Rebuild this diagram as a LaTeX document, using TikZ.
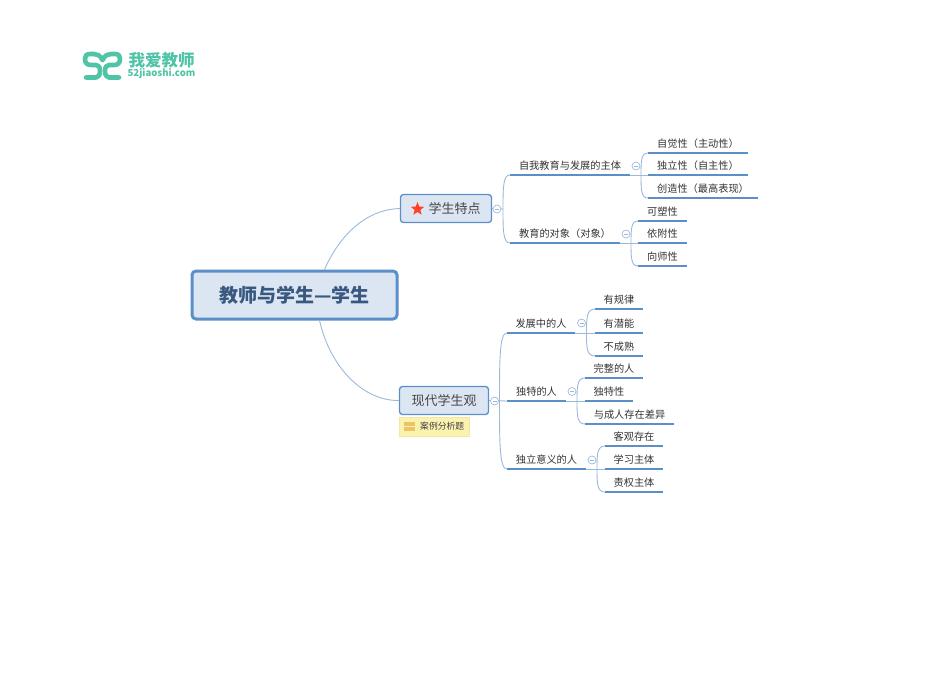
\documentclass[tikz,border=0pt]{standalone}
\usepackage{fontspec}
\setmainfont{Noto Sans CJK SC}
\usetikzlibrary{calc,shapes.geometric}
\definecolor{mapblue}{HTML}{5B8FC9}
\definecolor{mapfill}{HTML}{DCE6F2}
\definecolor{mapthin}{HTML}{9DB9D8}
\definecolor{maptext}{HTML}{38587F}
\definecolor{logogreen}{HTML}{4FC4A6}
\definecolor{notefill}{HTML}{FCF2B0}
\definecolor{notedraw}{HTML}{F3E8A0}
\definecolor{noteicon}{HTML}{EBC565}
\tikzset{
	rootbox/.style={draw=mapblue, line width=3pt, fill=mapfill, rounded corners=4pt, minimum width=205pt, minimum height=48pt, text=maptext, font=\fontsize{19}{21}\selectfont\bfseries},
	mainbox/.style={draw=mapblue, line width=1.3pt, fill=mapfill, rounded corners=3pt, minimum height=28pt, text=black!72, font=\fontsize{13}{15}\selectfont},
	topic/.style={inner sep=0pt, minimum height=18pt, anchor=south, text=black!80, font=\fontsize{10.2}{12}\selectfont},
	under/.style={draw=mapblue, line width=1.8pt},
	thinline/.style={draw=mapthin, line width=0.9pt},
	logoline/.style={logogreen, line width=4.6pt, line cap=round, line join=round},
	notebar/.style={fill=noteicon, inner sep=0pt, minimum width=11pt, minimum height=4pt},
	fold/.style={circle, draw=mapthin, fill=white, line width=0.7pt, minimum size=8pt, inner sep=0pt, path picture={\draw[mapthin, line width=0.6pt] ([xshift=-2pt]path picture bounding box.center) -- ([xshift=2pt]path picture bounding box.center);}}
}
\def\twig(#1)(#2){\draw[thinline] (#1) .. controls ($(#1)!0.6!(#1|-#2)$) and (#1|-#2) .. (#2);}
\begin{document}
\begin{tikzpicture}[x=1pt, y=-1pt]
	\useasboundingbox (0, 0) rectangle (950, 672);

	%%%%% logo %%%%%
	\draw[logoline] (102.5, 60) .. controls (100, 55) and (97, 54) .. (94, 54) -- (90, 54) .. controls (86, 54) and (85, 56) .. (85, 59) .. controls (85, 63) and (87, 65) .. (91, 65) -- (96, 65) .. controls (98.5, 65) and (100, 67) .. (100, 71) .. controls (100, 75) and (98.5, 77.5) .. (96, 77.5) -- (86, 77.5);
	\draw[logoline] (102.5, 60) .. controls (105, 55) and (108, 54) .. (111, 54) -- (115, 54) .. controls (119, 54) and (120, 56) .. (120, 59) .. controls (120, 63) and (118, 65) .. (114, 65) -- (109, 65) .. controls (106.5, 65) and (105, 67) .. (105, 71) .. controls (105, 75) and (106.5, 77.5) .. (109, 77.5) -- (119, 77.5);
	\node[logogreen, inner sep=0pt, font=\fontsize{16.5}{18}\selectfont\bfseries] (logoname) at (161.5, 60) {我爱教师};
	\node[logogreen, inner sep=0pt, font=\fontsize{9.6}{12}\selectfont\bfseries] (logosite) at (161.5, 73.5) {52jiaoshi.com};

	%%%%% root and main topics %%%%%
	\node[rootbox] (root) at (294.5, 295) {教师与学生—学生};
	\node[mainbox, minimum width=91pt] (trait) at (446, 208.5) {\hspace*{17pt}\raisebox{-1pt}{学生特点}};
	\node[star, star points=5, star point ratio=2.3, fill=red!75!orange!85!white, inner sep=0pt, minimum size=14pt] (traitstar) at (417.5, 209) {};
	\node[mainbox, minimum width=89pt] (view) at (444, 400.5) {\raisebox{-1pt}{现代学生观}};

	\node[draw=notedraw, fill=notefill, inner sep=0pt, minimum width=70pt, minimum height=19pt] (note) at (434, 426.5) {};
	\node[anchor=west, inner sep=0pt, text=black!75, font=\fontsize{8.8}{10}\selectfont] (notetext) at (420, 426.5) {案例分析题};
	\node[notebar] (noteicona) at (409.5, 423.5) {};
	\node[notebar] (noteiconb) at (409.5, 429) {};

	\draw[thinline] ($(root.north)+(30, 0)$) .. controls (343, 228) and (372, 209) .. (trait.west);
	\draw[thinline] ($(root.south)+(25, 0)$) .. controls (331, 370) and (365, 401) .. (view.west);

	%%%%% first branch %%%%%
	\node[topic, minimum width=120pt] (self) at (570, 175) {自我教育与发展的主体};
	\node[topic, minimum width=110pt] (object) at (565, 243) {教育的对象（对象）};
	\node[topic, minimum width=100pt] (selfa) at (698, 153) {自觉性（主动性）};
	\node[topic, minimum width=100pt] (selfb) at (698, 175) {独立性（自主性）};
	\node[topic, minimum width=110pt] (selfc) at (703, 198) {创造性（最高表现）};
	\node[topic, minimum width=49pt] (objecta) at (662.5, 221) {可塑性};
	\node[topic, minimum width=49pt] (objectb) at (662.5, 243) {依附性};
	\node[topic, minimum width=49pt] (objectc) at (662.5, 266) {向师性};

	\coordinate (traitfork) at (503, 209);
	\coordinate (selffork) at (641, 175);
	\coordinate (objectfork) at (631, 243);
	\draw[thinline] (trait.east) -- (traitfork);
	\twig(traitfork)(self.south west)
	\twig(traitfork)(object.south west)
	\draw[thinline] (self.south east) -- (selfb.south west);
	\twig(selffork)(selfa.south west)
	\twig(selffork)(selfc.south west)
	\draw[thinline] (object.south east) -- (objectb.south west);
	\twig(objectfork)(objecta.south west)
	\twig(objectfork)(objectc.south west)

	\foreach \n in {self, object, selfa, selfb, selfc, objecta, objectb, objectc}
		\draw[under] (\n.south west) -- (\n.south east);

	\node[fold] (foldtrait) at (497, 209) {};
	\node[fold] (foldself) at (636, 166) {};
	\node[fold] (foldobject) at (626, 234) {};

	%%%%% second branch %%%%%
	\node[topic, minimum width=68pt] (grow) at (541, 333) {发展中的人};
	\node[topic, minimum width=59pt] (unique) at (536.5, 401) {独特的人};
	\node[topic, minimum width=79pt] (indep) at (546.5, 469) {独立意义的人};
	\node[topic, minimum width=48pt] (growa) at (619, 309) {有规律};
	\node[topic, minimum width=48pt] (growb) at (619, 333) {有潜能};
	\node[topic, minimum width=48pt] (growc) at (619, 356) {不成熟};
	\node[topic, minimum width=58pt] (uniquea) at (614, 378) {完整的人};
	\node[topic, minimum width=48pt] (uniqueb) at (609, 401) {独特性};
	\node[topic, minimum width=89pt] (uniquec) at (629.5, 424) {与成人存在差异};
	\node[topic, minimum width=58pt] (indepa) at (634, 446) {客观存在};
	\node[topic, minimum width=58pt] (indepb) at (634, 469) {学习主体};
	\node[topic, minimum width=58pt] (indepc) at (634, 492) {责权主体};

	\coordinate (viewfork) at (499.5, 401);
	\coordinate (growfork) at (586.5, 333);
	\coordinate (uniquefork) at (577, 401);
	\coordinate (indepfork) at (597, 469);
	\draw[thinline] (view.east) -- (unique.south west);
	\twig(viewfork)(grow.south west)
	\twig(viewfork)(indep.south west)
	\draw[thinline] (grow.south east) -- (growb.south west);
	\twig(growfork)(growa.south west)
	\twig(growfork)(growc.south west)
	\draw[thinline] (unique.south east) -- (uniqueb.south west);
	\twig(uniquefork)(uniquea.south west)
	\twig(uniquefork)(uniquec.south west)
	\draw[thinline] (indep.south east) -- (indepb.south west);
	\twig(indepfork)(indepa.south west)
	\twig(indepfork)(indepc.south west)

	\foreach \n in {grow, unique, indep, growa, growb, growc, uniquea, uniqueb, uniquec, indepa, indepb, indepc}
		\draw[under] (\n.south west) -- (\n.south east);

	\node[fold] (foldview) at (494.5, 401) {};
	\node[fold] (foldgrow) at (581.5, 323) {};
	\node[fold] (foldunique) at (572, 391.5) {};
	\node[fold] (foldindep) at (592, 460) {};
\end{tikzpicture}
\end{document}
